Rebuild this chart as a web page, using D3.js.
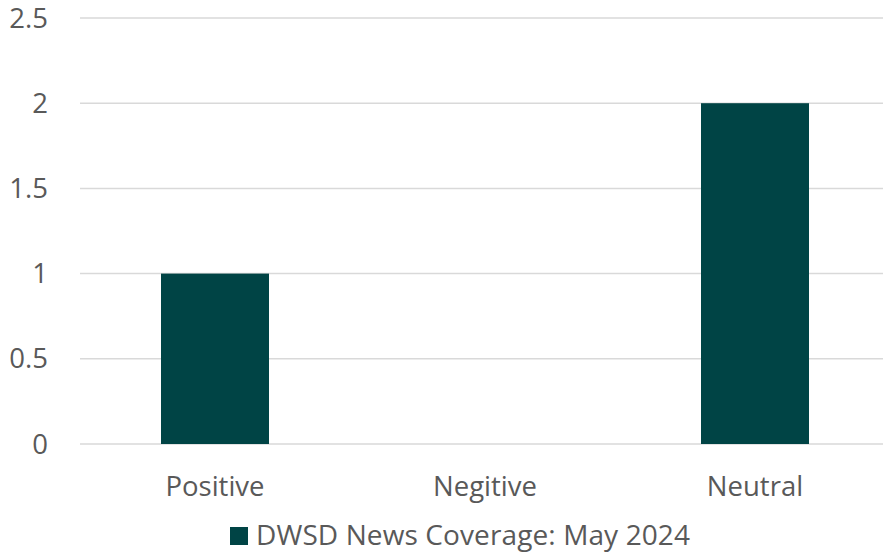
<!DOCTYPE html>
<html>
<head>
<meta charset="utf-8">
<script src="https://cdn.jsdelivr.net/npm/d3@7"></script>
<style>
  body { margin: 0; background: #fff; }
  text { font-family: "Open Sans", sans-serif; fill: #595959; }
</style>
</head>
<body>
<div id="chart"></div>
<script>
const categories = ["Positive", "Negitive", "Neutral"];
const values = [1, 0, 2];
const yTicks = [0, 0.5, 1, 1.5, 2, 2.5];
const seriesName = "DWSD News Coverage: May 2024";

const width = 883, height = 553;
const margin = { top: 18, right: -7, bottom: 109, left: 80 };
const barColor = "#004445";
const fontSize = 27.5;

const svg = d3.select("#chart").append("svg")
    .attr("width", width)
    .attr("height", height);

const xScale = d3.scaleBand().domain(categories)
    .range([margin.left, width - margin.right])
    .paddingInner(0.6).paddingOuter(0.3);
const yScale = d3.scaleLinear().domain([0, 2.5])
    .range([height - margin.bottom, margin.top]);

// gridlines
svg.append("g")
  .selectAll("line")
  .data(yTicks)
  .join("line")
    .attr("x1", margin.left)
    .attr("x2", width)
    .attr("y1", d => yScale(d))
    .attr("y2", d => yScale(d))
    .attr("stroke", "#d9d9d9")
    .attr("stroke-width", 1.5);

// y labels
svg.append("g")
  .selectAll("text")
  .data(yTicks)
  .join("text")
    .attr("x", 48)
    .attr("y", d => yScale(d))
    .attr("dy", "0.35em")
    .attr("text-anchor", "end")
    .attr("font-size", fontSize)
    .text(d => d);

// bars
svg.append("g")
  .selectAll("rect")
  .data(values)
  .join("rect")
    .attr("x", (d, i) => xScale(categories[i]))
    .attr("width", xScale.bandwidth())
    .attr("y", d => yScale(d))
    .attr("height", d => yScale(0) - yScale(d))
    .attr("fill", barColor);

// category labels
svg.append("g")
  .selectAll("text")
  .data(categories)
  .join("text")
    .attr("x", d => xScale(d) + xScale.bandwidth() / 2)
    .attr("y", 496)
    .attr("text-anchor", "middle")
    .attr("font-size", fontSize)
    .text(d => d);

// legend
const legend = svg.append("g");
legend.append("rect")
    .attr("x", 230).attr("y", 527)
    .attr("width", 18).attr("height", 18)
    .attr("fill", barColor);
legend.append("text")
    .attr("x", 256).attr("y", 545)
    .attr("font-size", 28)
    .attr("textLength", 434)
    .text(seriesName);
</script>
</body>
</html>
